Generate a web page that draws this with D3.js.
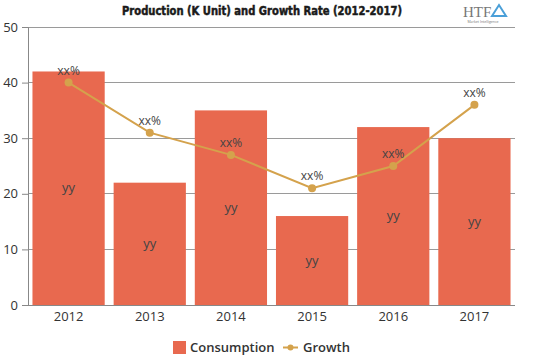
<!DOCTYPE html>
<html><head><meta charset="utf-8">
<script src="https://cdn.jsdelivr.net/npm/d3@7"></script>
<style>body{margin:0;background:#fff;}svg{display:block;}</style>
</head><body>
<svg id="c" width="539" height="359"></svg>
<script>
const categories = ["2012","2013","2014","2015","2016","2017"];
const consumption = [42, 22, 35, 16, 32, 30];
const growth = [40, 31, 27, 21, 25, 36];
const barLabels = ["yy","yy","yy","yy","yy","yy"];
const growthLabels = ["xx%","xx%","xx%","xx%","xx%","xx%"];
const yTicks = [0, 10, 20, 30, 40, 50];
const title = "Production (K Unit) and Growth Rate (2012-2017)";

const svg = d3.select("#c");
const pLeft = 28, pRight = 515, pTop = 27, pBottom = 305;
const x = d3.scaleBand().domain(categories).range([pLeft, pRight]).paddingInner(0.11).paddingOuter(0.055);
const y = d3.scaleLinear().domain([0, 50]).range([pBottom, pTop]);
const font = "'Open Sans', 'DejaVu Sans', sans-serif";

// grid
svg.append("g").selectAll("line").data(yTicks.filter(d => d > 0)).join("line")
  .attr("x1", pLeft).attr("x2", pRight).attr("y1", d => y(d)).attr("y2", d => y(d))
  .attr("stroke", "#9a9a9a").attr("stroke-width", 1).attr("shape-rendering", "crispEdges");

// bars
svg.append("g").selectAll("rect").data(consumption).join("rect")
  .attr("x", (d, i) => x(categories[i])).attr("width", x.bandwidth())
  .attr("y", d => y(d)).attr("height", d => y(0) - y(d))
  .attr("fill", "#E8694F");

// y axis
const yAxis = svg.append("g").attr("transform", `translate(${pLeft},0)`)
  .call(d3.axisLeft(y).tickValues(yTicks).tickSize(6).tickPadding(4));
yAxis.select(".domain").attr("stroke", "#888");
yAxis.selectAll(".tick line").attr("stroke", "#888");
yAxis.selectAll("text").attr("font-family", font).attr("font-size", 13).attr("fill", "#333");

// x axis
const xAxis = svg.append("g").attr("transform", `translate(0,${pBottom})`)
  .call(d3.axisBottom(x).tickSize(0).tickPadding(7));
xAxis.select(".domain").attr("stroke", "#888").attr("d", `M${pLeft},0.5H${pRight}`);
xAxis.selectAll("text").attr("font-family", font).attr("font-size", 13).attr("fill", "#333");

// bar labels
svg.append("g").selectAll("text").data(consumption).join("text")
  .attr("x", (d, i) => x(categories[i]) + x.bandwidth() / 2)
  .attr("y", d => y(d / 2) + 4)
  .attr("text-anchor", "middle").attr("font-family", font).attr("font-size", 13).attr("fill", "#444")
  .text((d, i) => barLabels[i]);

// growth line
const cx = (d, i) => x(categories[i]) + x.bandwidth() / 2;
const line = d3.line().x((d, i) => cx(d, i)).y(d => y(d));
svg.append("path").datum(growth).attr("d", line).attr("fill", "none")
  .attr("stroke", "#D4A24C").attr("stroke-width", 2);
svg.append("g").selectAll("circle").data(growth).join("circle")
  .attr("cx", cx).attr("cy", d => y(d)).attr("r", 4).attr("fill", "#D4A24C");
svg.append("g").selectAll("text").data(growth).join("text")
  .attr("x", cx).attr("y", d => y(d) - 8)
  .attr("text-anchor", "middle").attr("font-family", font).attr("font-size", 12).attr("fill", "#444")
  .text((d, i) => growthLabels[i]);

// title
svg.append("text").attr("x", 262).attr("y", 15).attr("text-anchor", "middle")
  .attr("font-family", "'DejaVu Sans Condensed', 'DejaVu Sans', sans-serif").attr("font-weight", "bold")
  .attr("font-size", 13).attr("fill", "#1a1a1a").attr("stroke", "#1a1a1a").attr("stroke-width", 0.5)
  .attr("textLength", 280).attr("lengthAdjust", "spacingAndGlyphs")
  .text(title);

// logo
const logo = svg.append("g");
logo.append("text").attr("x", 463).attr("y", 17).attr("font-family", "'Liberation Serif', serif")
  .attr("font-size", 15).attr("fill", "#777").text("HTF");
logo.append("path").attr("d", "M492,16 L499,5 L506,16 Z").attr("fill", "none").attr("stroke", "#4a9fd8").attr("stroke-width", 2);
logo.append("text").attr("x", 483).attr("y", 23).attr("text-anchor", "middle").attr("font-family", font)
  .attr("font-size", 3.5).attr("fill", "#777").text("Market Intelligence");

// legend
const lg = svg.append("g");
lg.append("rect").attr("x", 173).attr("y", 341).attr("width", 13).attr("height", 13).attr("fill", "#E8694F");
lg.append("text").attr("x", 190).attr("y", 352).attr("font-family", font).attr("font-size", 13)
  .attr("font-weight", 600).attr("fill", "#333").text("Consumption");
lg.append("line").attr("x1", 283).attr("x2", 298).attr("y1", 347.5).attr("y2", 347.5)
  .attr("stroke", "#D4A24C").attr("stroke-width", 2);
lg.append("circle").attr("cx", 290.5).attr("cy", 347.5).attr("r", 3).attr("fill", "#D4A24C");
lg.append("text").attr("x", 303).attr("y", 352).attr("font-family", font).attr("font-size", 13)
  .attr("font-weight", 600).attr("fill", "#333").text("Growth");
</script>
</body></html>
